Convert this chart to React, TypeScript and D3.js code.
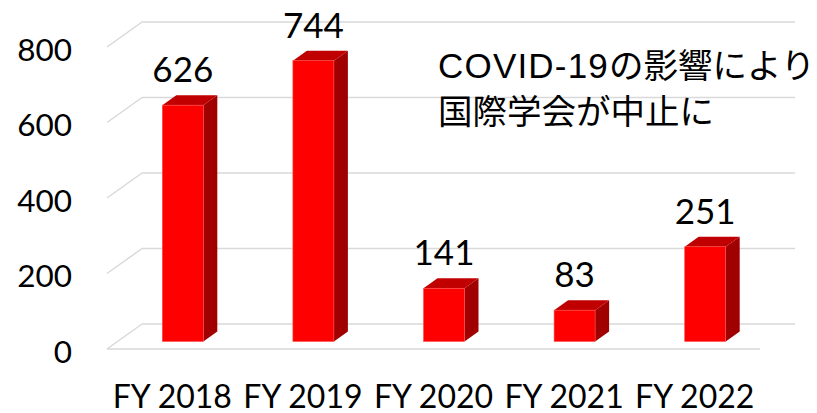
import React from "react";
import * as d3 from "d3";

const categories = ["FY 2018", "FY 2019", "FY 2020", "FY 2021", "FY 2022"];
const values = [626, 744, 141, 83, 251];
const yTicks = [0, 200, 400, 600, 800];
const noteLatin = ["COVID-19", ""];
const noteJapanese = ["の影響により", "国際学会が中止に"];

const W = 817;
const H = 413;
// floor front edge
const floorX0 = 107;
const floorX1 = 760;
const floorY = 349;
// full depth of the floor
const depthX = 35;
const depthY = -25;
// bar depth & offset
const barOffX = 10.5;
const barOffY = -7.5;
const barDX = 14;
const barDY = -10;

export default function App() {
  const x = d3.scaleBand<string>().domain(categories).range([floorX0, floorX1]).paddingInner(0).paddingOuter(0);
  const y = d3.scaleLinear().domain([0, 800]).range([floorY, 47]);
  const bw = 41;

  const grid = "#d9d9d9";
  const labelFont = "Lato, 'Open Sans', sans-serif";

  return (
    <svg width={W} height={H} style={{ position: "absolute", left: 0, top: 0 }}>
      <rect width={W} height={H} fill="#fff" />
      {/* gridlines */}
      {yTicks.map((t) => {
        const fy = y(t);
        return (
          <g key={t}>
            <line x1={floorX0} y1={fy} x2={floorX0 + depthX} y2={fy + depthY} stroke={grid} strokeWidth={1.5} />
            <line x1={floorX0 + depthX} y1={fy + depthY} x2={floorX1 + depthX} y2={fy + depthY} stroke={grid} strokeWidth={1.5} />
          </g>
        );
      })}
      <line x1={floorX0} y1={floorY} x2={floorX1} y2={floorY} stroke={grid} strokeWidth={1.5} />
      {/* y labels */}
      {yTicks.map((t) => (
        <text key={t} x={72} y={y(t) + 13.5} textAnchor="end" fontFamily={labelFont} fontSize={31.5} fill="#000">
          {t}
        </text>
      ))}
      {/* bars */}
      {categories.map((c, i) => {
        const v = values[i];
        const cx = (x(c) as number) + x.bandwidth() / 2 + barOffX;
        const x0 = cx - bw / 2;
        const x1 = cx + bw / 2;
        const yb = y(0) + barOffY;
        const yt = y(v) + barOffY;
        const top = [
          [x0, yt],
          [x1, yt],
          [x1 + barDX, yt + barDY],
          [x0 + barDX, yt + barDY],
        ];
        const side = [
          [x1, yt],
          [x1 + barDX, yt + barDY],
          [x1 + barDX, yb + barDY],
          [x1, yb],
        ];
        const pts = (p: number[][]) => p.map((q) => q.join(",")).join(" ");
        return (
          <g key={c}>
            <polygon points={pts(side)} fill="#a00000" />
            <polygon points={pts(top)} fill="#c00000" />
            <rect x={x0} y={yt} width={bw} height={yb - yt} fill="#ff0000" stroke="#ff4d4d" strokeWidth={0.6} />
            <text x={cx} y={yt - 23} textAnchor="middle" fontFamily={labelFont} fontSize={35} fill="#000">
              {v}
            </text>
          </g>
        );
      })}
      {/* x labels */}
      {categories.map((c) => (
        <text
          key={c}
          x={(x(c) as number) + x.bandwidth() / 2}
          y={408}
          textAnchor="middle"
          fontFamily={labelFont}
          fontSize={32}
          fill="#000"
        >
          {c}
        </text>
      ))}
      {/* annotation */}
      {noteJapanese.map((l, i) => (
        <text key={i} x={438} y={78 + i * 46} fill="#000">
          {noteLatin[i] && (
            <tspan fontFamily="'Liberation Sans', Arial, sans-serif" fontSize={35} letterSpacing={1.2}>
              {noteLatin[i]}
            </tspan>
          )}
          <tspan fontFamily="'Noto Sans CJK JP', sans-serif" fontSize={34.5}>
            {l}
          </tspan>
        </text>
      ))}
    </svg>
  );
}
